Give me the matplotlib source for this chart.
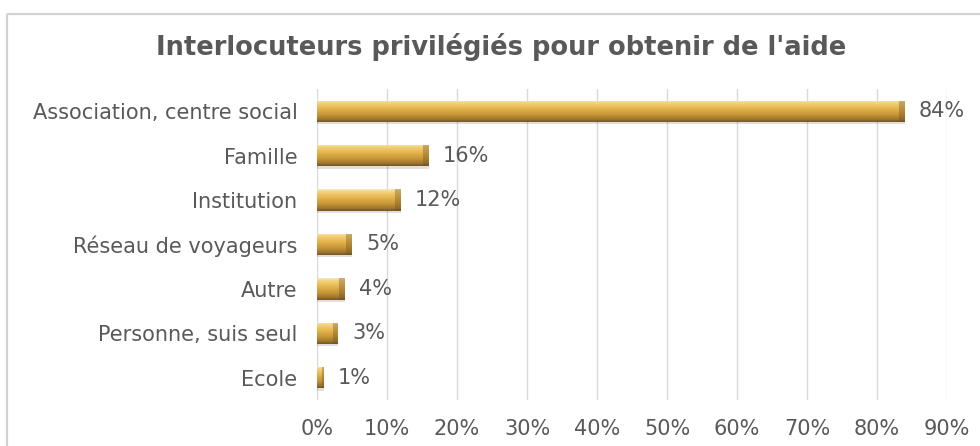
import numpy as np
import matplotlib.pyplot as plt
from matplotlib.colors import LinearSegmentedColormap
from matplotlib.lines import Line2D

# Données
categories = ["Association, centre social", "Famille", "Institution",
              "Réseau de voyageurs", "Autre", "Personne, suis seul", "Ecole"]
pourcentages = [84, 16, 12, 5, 4, 3, 1]
ticks = [0, 10, 20, 30, 40, 50, 60, 70, 80, 90]

gris_texte = "#595959"
taille = 15

fig = plt.figure(figsize=(9.8, 4.46), dpi=100)
fig.patch.set_facecolor("white")

# Cadre (bord haut et gauche)
fig.add_artist(Line2D([7 / 980, 1.0], [1 - 14 / 446, 1 - 14 / 446],
                      transform=fig.transFigure, color="#d2d2d2", lw=1.6,
                      solid_capstyle="butt"))
fig.add_artist(Line2D([7 / 980, 7 / 980], [0, 1 - 14 / 446],
                      transform=fig.transFigure, color="#d2d2d2", lw=1.6,
                      solid_capstyle="butt"))

ax = fig.add_axes([317 / 980, 46 / 446, 630 / 980, 311 / 446])

y = np.arange(len(categories))
bars = ax.barh(y, pourcentages, height=0.48, color="#d4a446",
               edgecolor="none", zorder=3)

# Dégradé doré vertical sur chaque barre
cmap = LinearSegmentedColormap.from_list("or", [
    (0.0, "#f6e7c0"), (0.12, "#f4d27c"), (0.35, "#e8b852"),
    (0.65, "#c99838"), (0.88, "#9f7630"), (1.0, "#735424")])
grad = np.linspace(0, 1, 64).reshape(-1, 1)
for b in bars:
    x0, y0 = b.get_x(), b.get_y()
    w, h = b.get_width(), b.get_height()
    im = ax.imshow(grad, cmap=cmap, aspect="auto",
                   extent=(x0, x0 + w, y0 + h, y0), zorder=4,
                   interpolation="bilinear")
    im.set_clip_path(b)
    # ombre légère sous la barre
    ax.barh(y0 + h / 2 + 0.05, w, height=h, left=x0, color="#000000",
            alpha=0.12, zorder=2, edgecolor="none")
    # extrémité plus sombre
    cap = min(0.8, w * 0.25)
    ax.barh(y0 + h / 2, cap, height=h, left=x0 + w - cap, color="#6b4f1f",
            alpha=0.35, zorder=5, edgecolor="none")

ax.set_ylim(len(categories) - 0.5, -0.5)
ax.set_xlim(0, 90)

# Étiquettes de valeur
for yi, v in zip(y, pourcentages):
    ax.text(v + 2.0, yi, f"{v}%", va="center", ha="left",
            fontsize=taille, color=gris_texte, zorder=6)

ax.set_xticks(ticks)
ax.set_xticklabels([f"{t}%" for t in ticks], fontsize=taille, color=gris_texte)
ax.set_yticks(y)
ax.set_yticklabels(categories, fontsize=taille, color=gris_texte)
ax.tick_params(axis="both", length=0)
ax.tick_params(axis="x", pad=14)
ax.tick_params(axis="y", pad=14)

ax.grid(axis="x", color="#d9d9d9", lw=1, zorder=0)
ax.set_axisbelow(True)
for s in ax.spines.values():
    s.set_visible(False)

fig.text(501 / 980, 1 - 47 / 446, "Interlocuteurs privilégiés pour obtenir de l'aide",
         ha="center", va="center", fontsize=18.5, fontweight="bold", color=gris_texte)

fig.savefig("out.png", dpi=100)
